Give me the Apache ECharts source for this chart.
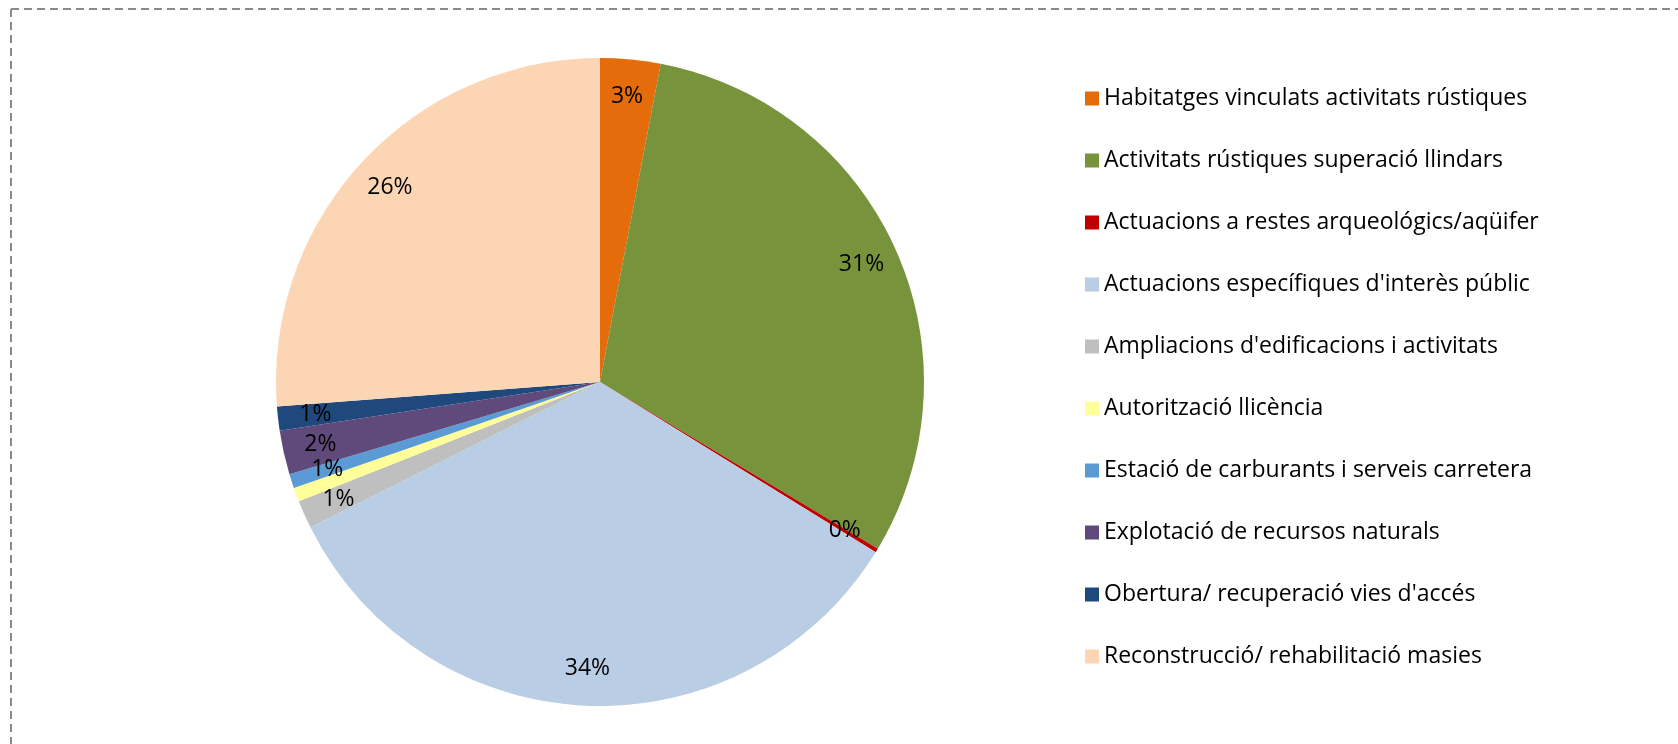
<!DOCTYPE html>
<html>
<head>
<meta charset="utf-8">
<script src="https://cdn.jsdelivr.net/npm/echarts@6/dist/echarts.min.js"></script>
<style>
html,body{margin:0;padding:0;background:#fff;}
#chart{width:1678px;height:744px;}
</style>
</head>
<body>
<div id="chart"></div>
<script>
const categories = [
  "Habitatges vinculats activitats rústiques",
  "Activitats rústiques superació llindars",
  "Actuacions a restes arqueológics/aqüifer",
  "Actuacions específiques d'interès públic",
  "Ampliacions d'edificacions i activitats",
  "Autorització llicència",
  "Estació de carburants i serveis carretera",
  "Explotació de recursos naturals",
  "Obertura/ recuperació vies d'accés",
  "Reconstrucció/ rehabilitació masies"
];
const values = [3.0, 30.6, 0.2, 33.8, 1.4, 0.7, 0.7, 2.2, 1.2, 26.2];
const colors = ["#E46C0A", "#77933C", "#C00000", "#B9CDE5", "#BFBFBF", "#FFFF99", "#5B9BD5", "#604A7B", "#1F497D", "#FCD5B5"];

const data = categories.map((n, i) => ({ name: n, value: values[i], itemStyle: { color: colors[i] } }));
const R = 324;
const font = "'Open Sans', sans-serif";

const chart = echarts.init(document.getElementById('chart'), null, { renderer: 'canvas' });
chart.setOption({
  animation: false,
  backgroundColor: '#fff',
  graphic: [
    { type: 'line', silent: true, shape: { x1: 11, y1: 9, x2: 1678, y2: 9 }, style: { stroke: '#8a8a8a', lineWidth: 2, lineDash: [8, 5] } },
    { type: 'line', silent: true, shape: { x1: 11, y1: 9, x2: 11, y2: 744 }, style: { stroke: '#8a8a8a', lineWidth: 2, lineDash: [8, 5] } }
  ],
  legend: {
    orient: 'vertical',
    left: 1080,
    top: 82,
    icon: 'rect',
    itemWidth: 14,
    itemHeight: 14,
    itemGap: 39,
    data: categories,
    selectedMode: false,
    textStyle: { fontFamily: font, fontSize: 23, color: '#000', lineHeight: 23 }
  },
  series: [
    {
      type: 'pie',
      center: [600, 382],
      radius: [0, R],
      startAngle: 90,
      clockwise: true,
      avoidLabelOverlap: false,
      label: { show: false },
      labelLine: { show: false },
      itemStyle: { borderWidth: 0 },
      emphasis: { disabled: true },
      data: data
    },
    {
      type: 'pie',
      center: [600, 382],
      radius: [R * 0.75, R],
      startAngle: 90,
      clockwise: true,
      silent: true,
      avoidLabelOverlap: false,
      itemStyle: { color: 'rgba(0,0,0,0)', borderWidth: 0 },
      labelLine: { show: false },
      label: {
        show: true,
        position: 'inside',
        fontFamily: font,
        fontSize: 23,
        color: '#000',
        formatter: p => Math.round(p.percent) + '%'
      },
      emphasis: { disabled: true },
      data: categories.map((n, i) => ({ name: n, value: values[i] }))
    }
  ]
});
</script>
</body>
</html>
